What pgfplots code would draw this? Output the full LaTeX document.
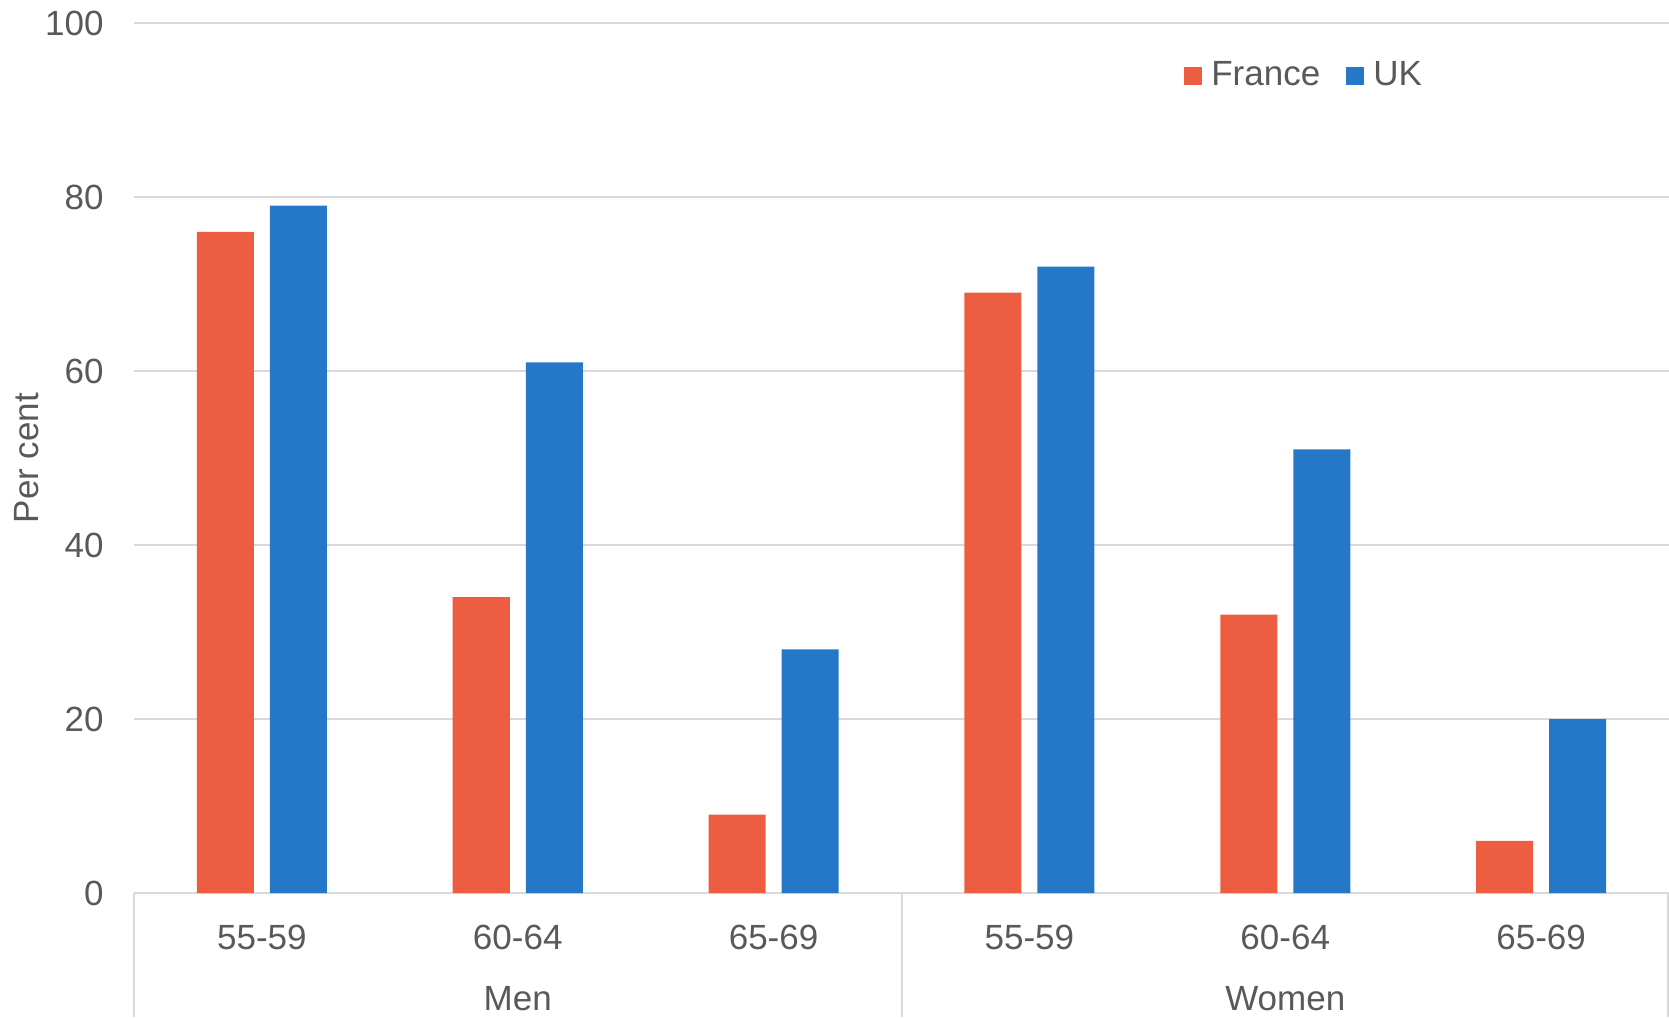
\documentclass[border=0pt]{standalone}
\usepackage{pgfplots}
\pgfplotsset{compat=1.18}
\usepackage{fontspec}
\setmainfont{Liberation Sans}
\definecolor{fr}{HTML}{EC5D42}
\definecolor{uk}{HTML}{2578C8}
\definecolor{txt}{HTML}{595959}
\definecolor{gridc}{HTML}{D9D9D9}
\begin{document}
\begin{tikzpicture}
\fontsize{17.5}{21}\selectfont
\begin{axis}[
  at={(0,0)}, anchor=south west,
  scale only axis, width=767.5pt, height=435pt,
  xmin=-0.5, xmax=5.5, ymin=0, ymax=100,
  ybar=8pt, bar width=28.5pt,
  xtick={0,1,2,3,4,5},
  xticklabels={55-59,60-64,65-69,55-59,60-64,65-69},
  ytick={0,20,40,60,80,100},
  major tick length=0pt,
  ymajorgrids, grid style={gridc, line width=1pt},
  axis x line*=bottom, axis y line*=left,
  x axis line style={gridc, line width=1pt, -},
  y axis line style={draw=none},
  /pgf/number format/assume math mode=true,
  tick label style={font=\fontsize{17.5}{21}\selectfont, text=txt},
  yticklabel style={anchor=east, inner sep=0pt, xshift=-15pt},
  xticklabel style={anchor=center, inner sep=0pt, yshift=-22pt},
  ylabel={Per cent},
  ylabel style={at={(axis description cs:-0.0697,0.5)}, anchor=center, font=\fontsize{17.5}{21}\selectfont, text=txt},
  legend columns=2,
  legend style={draw=none, fill=none, inner sep=0pt, at={(rel axis cs:0.684,0.939)}, anchor=west, font=\fontsize{17.5}{21}\selectfont, text=txt,
    /tikz/every odd column/.append style={column sep=2.5pt},
    /tikz/every even column/.append style={column sep=11pt}},
  legend image code/.code={\fill[#1] (0pt,-4.5pt) rectangle (9pt,4.5pt);},
  clip=false,
]
\addplot[fill=fr, draw=none] coordinates {(0,76) (1,34) (2,9) (3,69) (4,32) (5,6)};
\addplot[fill=uk, draw=none] coordinates {(0,79) (1,61) (2,28) (3,72) (4,51) (5,20)};
\legend{France,UK}
\draw[gridc, line width=1pt] (axis cs:-0.5,0) -- ([yshift=-62pt]axis cs:-0.5,0);
\draw[gridc, line width=1pt] (axis cs:2.5,0) -- ([yshift=-62pt]axis cs:2.5,0);
\draw[gridc, line width=1pt] ([xshift=-0.6pt]axis cs:5.5,0) -- ([xshift=-0.6pt,yshift=-62pt]axis cs:5.5,0);
\node[text=txt, inner sep=0pt, anchor=center] at (axis cs:1,0) [yshift=-53pt] {Men};
\node[text=txt, inner sep=0pt, anchor=center] at (axis cs:4,0) [yshift=-53pt] {Women};
\end{axis}
\pgfresetboundingbox
\useasboundingbox (-67pt,-62pt) rectangle (767.5pt,446.5pt);
\end{tikzpicture}
\end{document}
